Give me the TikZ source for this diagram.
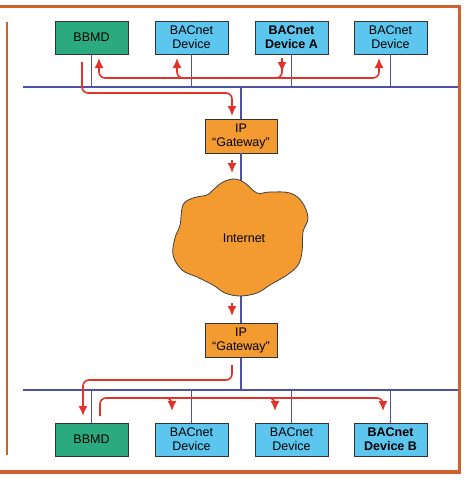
\documentclass[tikz,border=0pt]{standalone}
\usepackage{fontspec}
\setmainfont{Liberation Sans}
\usetikzlibrary{arrows.meta}

\definecolor{bbmdgreen}{HTML}{2BAA80}
\definecolor{devblue}{HTML}{5CC6EE}
\definecolor{gworange}{HTML}{F39A30}
\definecolor{framebrown}{HTML}{D0602C}
\definecolor{busblue}{HTML}{4D52A2}
\definecolor{flowred}{HTML}{E2332B}

\begin{document}
\begin{tikzpicture}[x=1pt, y=-1pt,
  box/.style={draw=black!80, line width=0.8pt, minimum width=73pt, minimum height=33pt,
    inner sep=1pt, align=center, font=\fontsize{12.5}{14}\selectfont},
  bbmdbox/.style={box, fill=bbmdgreen},
  devbox/.style={box, fill=devblue},
  gwbox/.style={box, fill=gworange, minimum width=72pt, minimum height=34pt},
  bus/.style={busblue, line width=1.5pt},
  flow/.style={flowred, line width=1.6pt, rounded corners=6pt},
  tip/.style={-{Latex[length=10pt,width=9pt]}}]
\useasboundingbox (0,0) rectangle (468,482);
\fill[white] (0,0) rectangle (468,482);
% frame
\draw [framebrown, line width=3.5pt] (0,6.5) -- (459.5,6.5) -- (459.5,472) -- (0,472);
\draw [framebrown, line width=1.5pt] (7,22) -- (7,455);

% upper network
\node [bbmdbox] (bbmd1) at (91.5,37.5) {BBMD};
\node [devbox] (dev1) at (191.5,37.5) {BACnet\\Device};
\node [devbox, font=\fontsize{12.5}{14}\selectfont\bfseries] (devA) at (291.5,37.5) {BACnet\\Device A};
\node [devbox] (dev2) at (390.5,37.5) {BACnet\\Device};
\coordinate (busL1) at (23,87);
\coordinate (busR1) at (458,87);
\draw [bus] (busL1) -- (busR1);
\foreach \n in {bbmd1,dev1,devA,dev2}
  \draw [bus] (\n.south) -- (\n.south |- busL1);

\node [gwbox] (gw1) at (241,136) {IP\\“Gateway”};
\node [gwbox] (gw2) at (241,340.5) {IP\\“Gateway”};
\draw [bus] (gw1.north |- busL1) -- (gw1.north);
\draw [bus] (gw1.south) -- (gw2.north);

% internet cloud
\draw [black!75, line width=0.8pt, fill=gworange] plot [smooth cycle, tension=0.6] coordinates {
  (213,190) (223,182) (235,179) (245,183) (257,193) (270,192) (290,193) (302,202)
  (308,218) (303,232) (302,252) (298,265) (287,275) (270,285) (257,293) (240,296)
  (225,293) (213,285) (197,277) (182,270) (173,255) (175,238) (180,225) (183,205)
  (193,198) (207,195)};
\node [font=\fontsize{12.5}{14}\selectfont] (inet) at (244,238) {Internet};

% lower network
\node [bbmdbox] (bbmd2) at (91.5,439.5) {BBMD};
\node [devbox] (dev3) at (191.5,439.5) {BACnet\\Device};
\node [devbox] (dev4) at (291.5,439.5) {BACnet\\Device};
\node [devbox, font=\fontsize{12.5}{14}\selectfont\bfseries] (devB) at (390.5,439.5) {BACnet\\Device B};
\coordinate (busL2) at (23,390);
\coordinate (busR2) at (458,390);
\draw [bus] (busL2) -- (busR2);
\draw [bus] (gw2.south) -- (gw2.south |- busL2);
\foreach \n in {bbmd2,dev3,dev4,devB}
  \draw [bus] (\n.north) -- (\n.north |- busL2);

% message flow
\draw [flow, {Latex[length=10pt,width=9pt]}-{Latex[length=10pt,width=9pt]}] (99,58) -- (99,78) -- (379,78) -- (379,58);
\draw [flow, {Latex[length=10pt,width=9pt]}-] (177,58) -- (177,78) -- (195,78);
\draw [flow] (282,64) -- (282,78) -- (265,78);
\draw [flow, tip] (282,58) -- (282,72);
\draw [flow, tip] (82,62) -- (82,93) -- (232,93) -- (232,116);
\draw [flow, tip] (232,160) -- (232,173);
\draw [flow, tip] (232,303) -- (232,316);
\draw [flow, tip] (232,365) -- (232,380) -- (83,380) -- (83,416);
\draw [flow, tip] (100,416) -- (100,398) -- (383,398) -- (383,411);
\draw [flow, tip] (160,398) -- (172,398) -- (172,411);
\draw [flow, tip] (262,398) -- (275,398) -- (275,411);
\end{tikzpicture}
\end{document}
